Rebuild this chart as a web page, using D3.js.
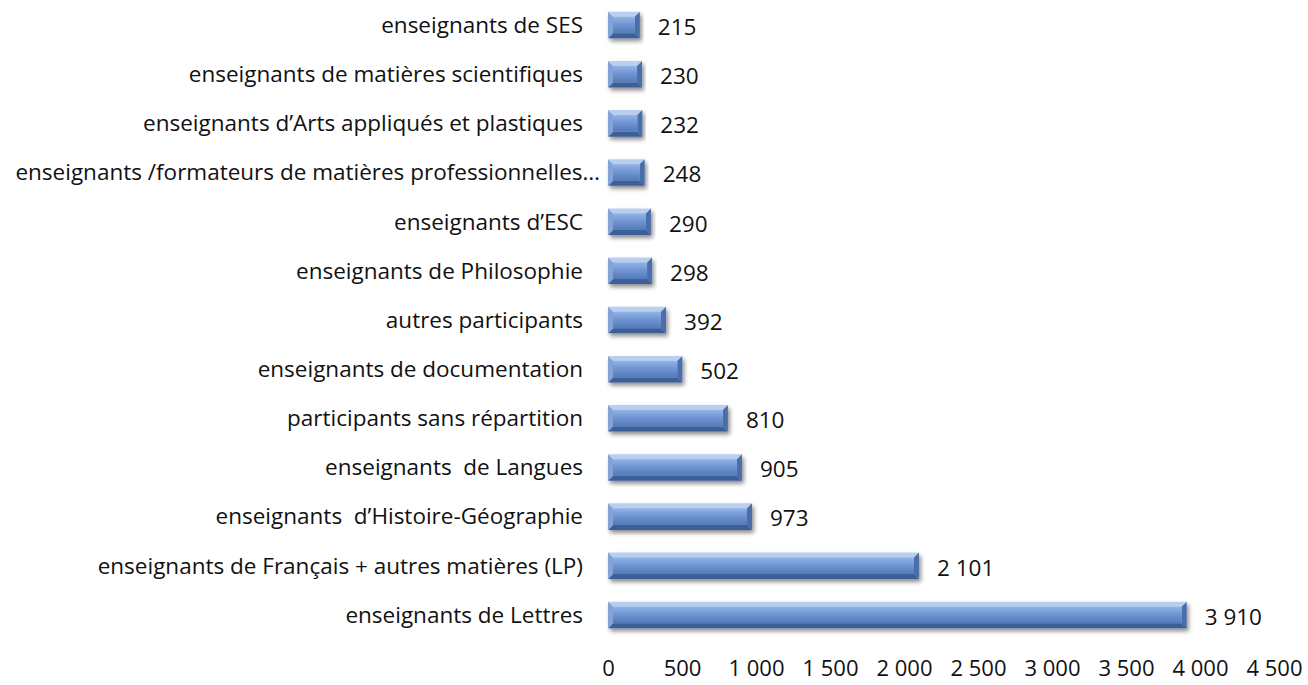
<!DOCTYPE html>
<html>
<head>
<meta charset="utf-8">
<script src="https://cdn.jsdelivr.net/npm/d3@7"></script>
<style>
  body { margin: 0; background: #fff; }
  svg text { font-family: "Open Sans", sans-serif; fill: #111; white-space: pre; }
</style>
</head>
<body>
<div id="chart"></div>
<script>
// categories top to bottom, with their counts
const categories = [
    "enseignants de SES",
    "enseignants de matières scientifiques",
    "enseignants d\u2019Arts appliqués et plastiques",
    "enseignants /formateurs de matières professionnelles\u2026",
    "enseignants d\u2019ESC",
    "enseignants de Philosophie",
    "autres participants",
    "enseignants de documentation",
    "participants sans répartition",
    "enseignants  de Langues",
    "enseignants  d\u2019Histoire-Géographie",
    "enseignants de Français + autres matières (LP)",
    "enseignants de Lettres"
];
const values = [215, 230, 232, 248, 290, 298, 392, 502, 810, 905, 973, 2101, 3910];
const xTicks = [0, 500, 1000, 1500, 2000, 2500, 3000, 3500, 4000, 4500];

const width = 1308, height = 685;
const fr = d3.formatLocale({decimal: ",", thousands: "\u00a0", grouping: [3], currency: ["", " €"]});
const fmt = fr.format(",d");

const svg = d3.select("#chart").append("svg")
    .attr("width", width)
    .attr("height", height);

const data = categories.map((c, i) => ({name: c, value: values[i]}));

const x = d3.scaleLinear().domain([0, 4500]).range([608, 1274]);
const y = d3.scaleBand().domain(categories).range([0, 640])
    .paddingInner(0.46).paddingOuter(0.24);

// shadow + gradient
const defs = svg.append("defs");
const shadow = defs.append("filter").attr("id", "barShadow")
    .attr("x", "-5%").attr("y", "-30%").attr("width", "115%").attr("height", "190%");
shadow.append("feDropShadow")
    .attr("dx", 2).attr("dy", 3).attr("stdDeviation", 2.2)
    .attr("flood-color", "#000").attr("flood-opacity", 0.45);

const grad = defs.append("linearGradient").attr("id", "barGrad")
    .attr("x1", "0%").attr("y1", "0%").attr("x2", "0%").attr("y2", "100%");
[["0%", "#93b3e6"], ["45%", "#7096d3"], ["100%", "#5479b9"]].forEach(s => {
    grad.append("stop").attr("offset", s[0]).attr("stop-color", s[1]);
});

const bev = 5;
const bars = svg.append("g").attr("class", "bars")
    .selectAll("g").data(data).join("g")
    .attr("transform", d => `translate(${x(0)},${y(d.name)})`)
    .attr("filter", "url(#barShadow)");

const bh = y.bandwidth();
bars.each(function (d) {
    const g = d3.select(this);
    const w = x(d.value) - x(0);
    // top bevel
    g.append("polygon").attr("points", `0,0 ${w},0 ${w - bev},${bev} ${bev},${bev}`).attr("fill", "#b9cff1");
    // bottom bevel
    g.append("polygon").attr("points", `0,${bh} ${w},${bh} ${w - bev},${bh - bev} ${bev},${bh - bev}`).attr("fill", "#3c5e98");
    // left bevel
    g.append("polygon").attr("points", `0,0 ${bev},${bev} ${bev},${bh - bev} 0,${bh}`).attr("fill", "#82a2d8");
    // right bevel
    g.append("polygon").attr("points", `${w},0 ${w - bev},${bev} ${w - bev},${bh - bev} ${w},${bh}`).attr("fill", "#4a6eab");
    // face
    g.append("rect").attr("x", bev).attr("y", bev).attr("width", Math.max(0, w - 2 * bev)).attr("height", bh - 2 * bev)
        .attr("fill", "url(#barGrad)");
});

// value labels
svg.append("g").selectAll("text").data(data).join("text")
    .attr("x", d => x(d.value) + 18)
    .attr("y", d => y(d.name) + bh / 2 + 2)
    .attr("dy", "0.35em")
    .attr("font-size", 22.5)
    .text(d => fmt(d.value));

// category labels (the truncated one spills past the others, as in the source)
svg.append("g").selectAll("text").data(data).join("text")
    .attr("x", d => x(0) - (d.name.endsWith("\u2026") ? 8 : 25))
    .attr("y", d => y(d.name) + bh / 2)
    .attr("dy", "0.35em")
    .attr("text-anchor", "end")
    .attr("font-size", 22.5)
    .text(d => d.name);

// x axis
const xAxis = svg.append("g")
    .attr("transform", "translate(0,660)")
    .call(d3.axisBottom(x).tickValues(xTicks).tickSize(0).tickPadding(0).tickFormat(fmt));
xAxis.select(".domain").remove();
xAxis.selectAll("text").attr("font-size", 22).attr("font-family", "'Open Sans', sans-serif").attr("fill", "#111");
</script>
</body>
</html>
